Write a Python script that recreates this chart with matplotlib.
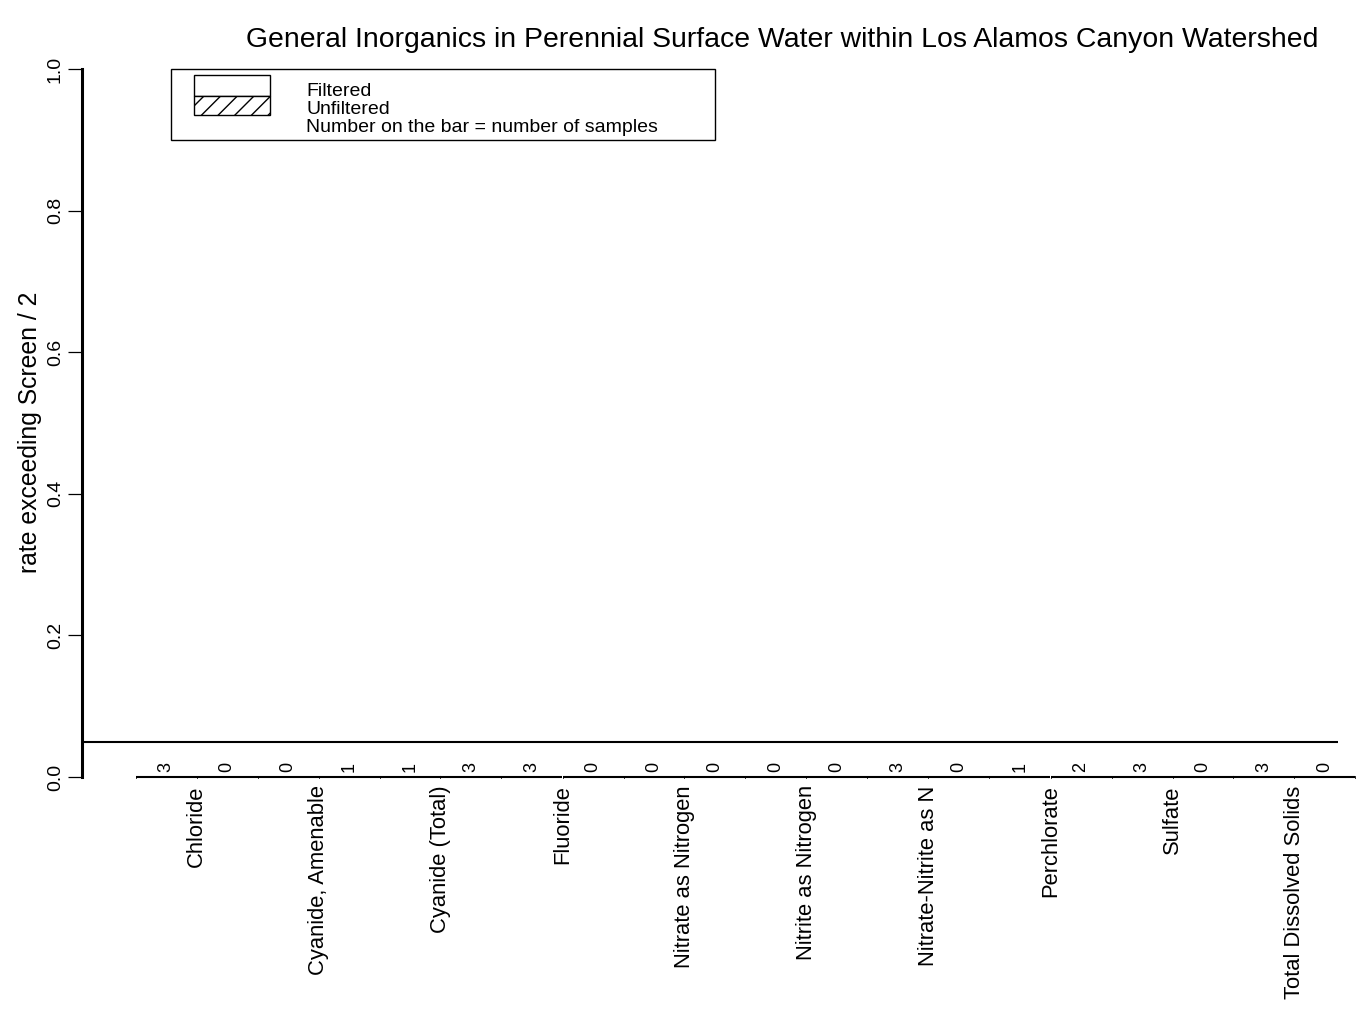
import matplotlib
matplotlib.use("Agg")
import matplotlib.pyplot as plt
from matplotlib.patches import Rectangle

plt.rcParams['font.family'] = ['Liberation Sans', 'DejaVu Sans']
plt.rcParams['hatch.linewidth'] = 1.0

# Rate exceeding screen/2 and sample counts per analyte
analytes = ["Chloride", "Cyanide, Amenable", "Cyanide (Total)", "Fluoride",
            "Nitrate as Nitrogen", "Nitrite as Nitrogen", "Nitrate-Nitrite as N",
            "Perchlorate", "Sulfate", "Total Dissolved Solids"]
filtered_rate = [0, 0, 0, 0, 0, 0, 0, 0, 0, 0]
unfiltered_rate = [0, 0, 0, 0, 0, 0, 0, 0, 0, 0]
filtered_n = [3, 0, 1, 3, 0, 0, 3, 1, 3, 3]
unfiltered_n = [0, 1, 3, 0, 0, 0, 0, 2, 0, 0]
screen_line = 0.05

fig = plt.figure(figsize=(13.63, 10.21), dpi=100)
W, H = 1363, 1021
ax = fig.add_axes([82 / W, 1 - 777 / H, (1338 - 82) / W, (777 - 69) / H])

n = len(analytes)
xf = [2 * i for i in range(n)]
xu = [2 * i + 1 for i in range(n)]

bars_f = ax.bar(xf, filtered_rate, width=1, color="white", edgecolor="black",
                linewidth=1.5, clip_on=False)
bars_u = ax.bar(xu, unfiltered_rate, width=1, color="white", edgecolor="black",
                hatch="//", linewidth=1.5, clip_on=False)

# small marks at the bar edges
for i in range(2 * n + 1):
    ax.plot([i - 0.5, i - 0.5], [-0.002, 0.002], color="black", lw=0.6, clip_on=False)

for x, v, c in zip(xf + xu, filtered_rate + unfiltered_rate, filtered_n + unfiltered_n):
    ax.annotate(str(c), (x, v), xytext=(0, 3.5), textcoords="offset points",
                rotation=90, ha="center", va="bottom", fontsize=13)

ax.axhline(screen_line, color="black", lw=1.5)

ax.set_xlim((82 - 166) / 61, (1338 - 166) / 61)
ax.set_ylim(0, 1)
ax.set_xticks([2 * i + 0.5 for i in range(n)])
ax.set_xticklabels(analytes, rotation=90, fontsize=15.8, va="top", ha="center")
ax.tick_params(axis="x", length=0, pad=6)
ax.set_yticks([0, 0.2, 0.4, 0.6, 0.8, 1.0])
ax.set_yticklabels(["0.0", "0.2", "0.4", "0.6", "0.8", "1.0"], rotation=90, va="center",
                   fontsize=14)
ax.tick_params(axis="y", length=10, width=0.9, pad=3)
for s in ["top", "right", "bottom"]:
    ax.spines[s].set_visible(False)
ax.spines["left"].set_linewidth(2.2)

fig.text(30 / W, 1 - 432 / H, "rate exceeding Screen / 2", rotation=90,
         ha="center", va="center", fontsize=17.8)
fig.text(782 / W, 1 - 40 / H,
         "General Inorganics in Perennial Surface Water within Los Alamos Canyon Watershed",
         ha="center", va="center", fontsize=20.4)

# legend box
def px(x, y):
    return x / W, 1 - y / H

lx, ly = px(171, 140)
fig.patches.append(Rectangle((lx, ly), (715 - 171) / W, 71 / H, transform=fig.transFigure,
                             facecolor="white", edgecolor="black", lw=1.0))
a, b = px(194, 96)
fig.patches.append(Rectangle((a, b), 76 / W, 21 / H, transform=fig.transFigure,
                             facecolor="white", edgecolor="black", lw=1.0))
a, b = px(194, 115)
fig.patches.append(Rectangle((a, b), 76 / W, 19 / H, transform=fig.transFigure,
                             facecolor="white", edgecolor="black", lw=1.0, hatch="//"))
for y, t in [(91, "Filtered"), (109, "Unfiltered"), (128, "Number on the bar = number of samples")]:
    a, b = px(306, y)
    fig.text(a, b, t, ha="left", va="center", fontsize=14)

fig.savefig("out.png", dpi=100)
